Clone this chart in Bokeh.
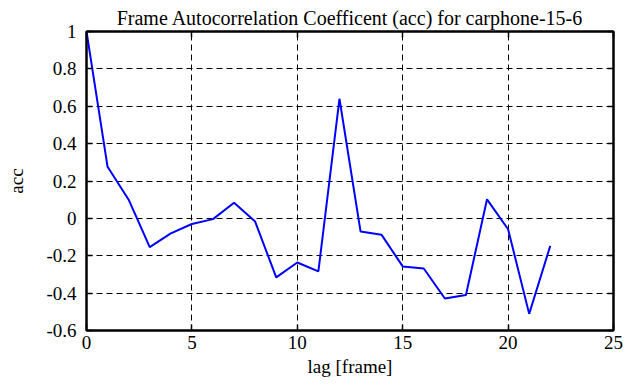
from bokeh.plotting import figure
from bokeh.models import Range1d, FixedTicker, LinearAxis
from bokeh.embed import file_html
from bokeh.resources import INLINE

lag = list(range(23))
acc = [1.0, 0.276, 0.10, -0.154, -0.08, -0.03, -0.004, 0.084, -0.017, -0.316,
       -0.236, -0.284, 0.64, -0.07, -0.088, -0.257, -0.268, -0.429, -0.41, 0.102,
       -0.058, -0.511, -0.147]
x_ticks = [0, 5, 10, 15, 20, 25]
y_ticks = [-0.6, -0.4, -0.2, 0, 0.2, 0.4, 0.6, 0.8, 1]
y_labels = ["-0.6", "-0.4", "-0.2", "0", "0.2", "0.4", "0.6", "0.8", "1"]

FONT = "Liberation Serif"

p = figure(width=633, height=379, output_backend="svg", toolbar_location=None,
           x_range=Range1d(0, 25), y_range=Range1d(-0.6, 1),
           title="Frame Autocorrelation Coefficent (acc) for carphone-15-6",
           min_border_left=86, min_border_right=20, min_border_top=31, min_border_bottom=48)
p.title.align = "center"
p.title.text_font = FONT
p.title.text_font_size = "20px"
p.title.text_font_style = "normal"
p.title.text_color = "black"
p.title.offset = 0
p.title.standoff = 6

p.line(lag, acc, line_color="#0000ff", line_width=2)

p.outline_line_color = "black"
p.outline_line_width = 2
p.outline_line_alpha = 1

top = LinearAxis(ticker=FixedTicker(ticks=x_ticks),
                 major_label_overrides={t: "" for t in x_ticks})
right = LinearAxis(ticker=FixedTicker(ticks=y_ticks),
                   major_label_overrides={t: "" for t in y_ticks})
p.add_layout(top, "above")
p.add_layout(right, "right")

for ax in list(p.xaxis) + list(p.yaxis):
    ax.axis_label_text_font = FONT
    ax.axis_label_text_font_size = "19px"
    ax.axis_label_text_font_style = "normal"
    ax.axis_label_text_color = "black"
    ax.major_label_text_font = FONT
    ax.major_label_text_font_size = "19px"
    ax.major_label_text_color = "black"
    ax.major_tick_in = 6
    ax.major_tick_out = 0
    ax.minor_tick_line_color = None
    ax.axis_line_width = 2
    ax.axis_line_color = "black"
    ax.major_tick_line_width = 1.5
    ax.major_tick_line_color = "black"
top.major_label_standoff = 0
right.major_label_standoff = 0

xa = p.below[0]
ya = p.left[0]
xa.axis_label = "lag [frame]"
ya.axis_label = "acc"
xa.ticker = FixedTicker(ticks=x_ticks)
ya.ticker = FixedTicker(ticks=y_ticks)
ya.major_label_overrides = {t: l for t, l in zip(y_ticks, y_labels)}
ya.major_label_orientation = 0
xa.axis_label_standoff = 4
ya.axis_label_standoff = 16
xa.major_label_standoff = 5
ya.major_label_standoff = 10

p.xgrid.ticker = FixedTicker(ticks=[5, 10, 15, 20])
p.ygrid.ticker = FixedTicker(ticks=y_ticks[1:-1])
for g in [p.xgrid[0], p.ygrid[0]]:
    g.grid_line_color = "black"
    g.grid_line_dash = "6 4"
    g.grid_line_width = 1
    g.grid_line_alpha = 1

p.background_fill_color = "white"
p.border_fill_color = "white"

open("out.html", "w").write(file_html(p, INLINE))
